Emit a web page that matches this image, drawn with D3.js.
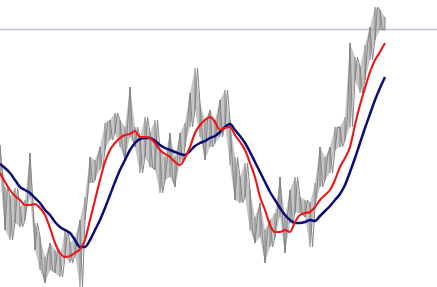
<!DOCTYPE html>
<html>
<head>
<meta charset="utf-8">
<script src="https://cdn.jsdelivr.net/npm/d3@7"></script>
<style>
  body { margin: 0; background: #fff; }
  svg { display: block; }
</style>
</head>
<body>
<svg id="chart" width="437" height="287"></svg>
<script>
// price bands, one entry every 5 days
const highs = [142,100,90,99,80,87,134,64,50,30,44,37,30,57,44,50,67,90,130,127,140,164,167,174,167,160,200,160,150,170,154,167,137,130,154,130,154,164,194,219,184,167,177,167,187,197,167,130,110,124,97,70,84,57,67,74,110,70,97,110,90,87,84,104,140,130,140,160,160,170,244,230,220,242,260,280,277,270];
const lows = [112,57,47,64,60,67,90,37,17,4,17,14,10,30,24,32,0,67,104,107,117,137,147,154,140,127,150,140,114,130,120,117,94,107,110,100,124,140,160,177,150,127,140,144,150,162,122,87,84,90,57,44,50,24,40,50,70,34,64,74,74,70,40,80,100,107,114,137,140,147,160,207,194,207,227,247,257,257];
// moving averages
const fastAvg = [114,105,97,91,87,82,82,83,79,72,59,44,34,30,31,34,38,47,67,87,107,125,137,144,149,152,153,156,150,150,149,144,137,133,130,125,122,129,140,154,162,167,170,165,157,159,160,152,145,137,124,110,90,77,62,55,55,57,55,65,72,74,75,80,87,92,97,107,120,129,140,162,182,199,215,227,235,244];
const slowAvg = [123,119,114,107,100,97,94,89,84,77,72,65,60,57,54,47,40,40,47,57,67,79,92,105,117,127,137,144,148,149,149,146,142,139,137,135,133,132,136,141,144,146,149,151,155,160,163,157,151,144,135,125,115,105,95,87,79,72,67,64,64,65,67,66,71,76,81,87,93,102,115,129,144,159,173,187,199,210];
const refLevel = 257.5;

const width = 437, height = 287;
const svg = d3.select("#chart");

const x = d3.scaleLinear().domain([0, highs.length - 1]).range([0, 385]);
const y = d3.scaleLinear().domain([0, 287]).range([height, 0]);

// reference line
svg.append("line")
    .attr("x1", 0).attr("x2", width)
    .attr("y1", y(refLevel)).attr("y2", y(refLevel))
    .attr("stroke", "#c3c6d2").attr("stroke-width", 1.5);

// price band
const band = d3.area()
    .x((d, i) => x(i))
    .y0((d, i) => y(lows[i]))
    .y1((d, i) => y(highs[i]));
svg.append("path").datum(highs)
    .attr("d", band)
    .attr("fill", "#8c8c8c").attr("fill-opacity", 0.5);

// jagged high/low trace
const zig = [];
highs.forEach((h, i) => {
    zig.push([x(i), y(i % 2 ? lows[i] : h)]);
    if (i < highs.length - 1) zig.push([x(i + 0.5), y(i % 2 ? h : lows[i])]);
});
svg.append("path")
    .attr("d", d3.line()(zig))
    .attr("fill", "none").attr("stroke", "#848484").attr("stroke-width", 1);

svg.selectAll(".bar")
    .data(highs).enter().append("line").attr("class", "bar")
    .attr("x1", (d, i) => x(i)).attr("x2", (d, i) => x(i))
    .attr("y1", d => y(d)).attr("y2", (d, i) => y(lows[i]))
    .attr("stroke", "#848484").attr("stroke-width", 1);

const avgLine = d3.line().x((d, i) => x(i)).y(d => y(d)).curve(d3.curveMonotoneX);

svg.append("path").datum(slowAvg)
    .attr("d", avgLine)
    .attr("fill", "none").attr("stroke", "#0c0c78").attr("stroke-width", 2.5);

svg.append("path").datum(fastAvg)
    .attr("d", avgLine)
    .attr("fill", "none").attr("stroke", "#ee1515").attr("stroke-width", 2.1);
</script>
</body>
</html>
